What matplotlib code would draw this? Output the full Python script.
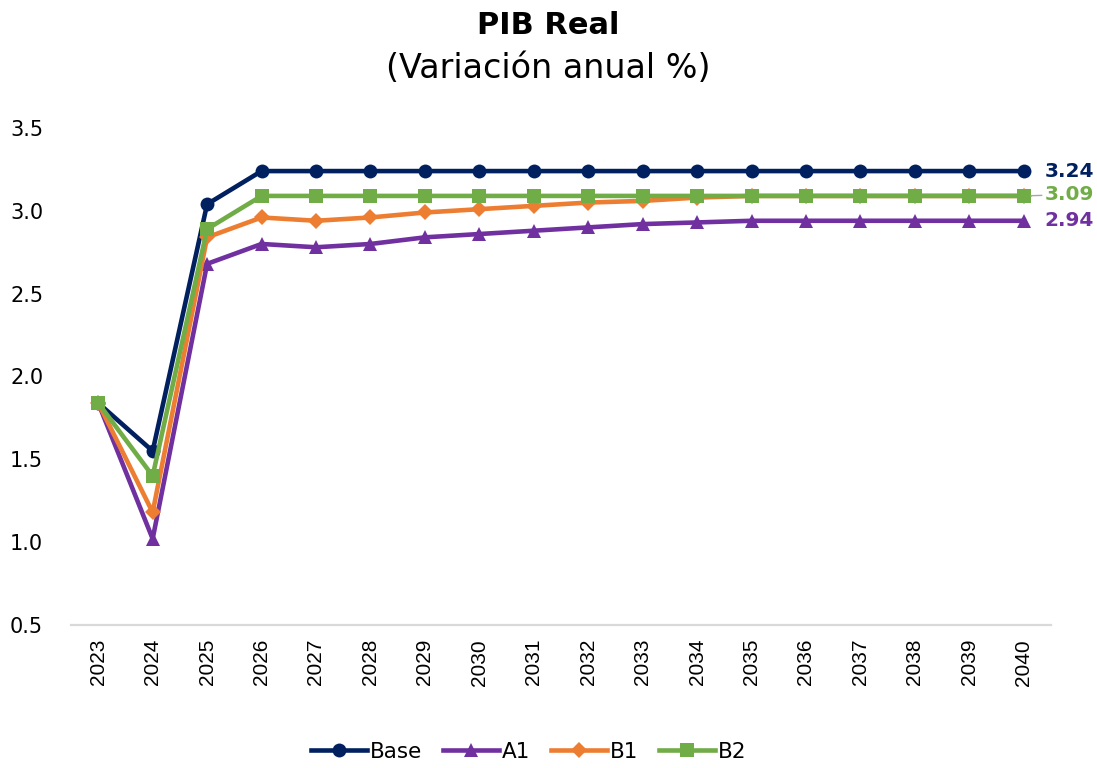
import matplotlib
matplotlib.use("Agg")
import matplotlib.pyplot as plt
from matplotlib.lines import Line2D

years = [str(y) for y in range(2023, 2041)]
base = [1.84, 1.55, 3.04, 3.24, 3.24, 3.24, 3.24, 3.24, 3.24, 3.24, 3.24, 3.24, 3.24, 3.24, 3.24, 3.24, 3.24, 3.24]
a1 = [1.84, 1.02, 2.68, 2.80, 2.78, 2.80, 2.84, 2.86, 2.88, 2.90, 2.92, 2.93, 2.94, 2.94, 2.94, 2.94, 2.94, 2.94]
b1 = [1.84, 1.18, 2.84, 2.96, 2.94, 2.96, 2.99, 3.01, 3.03, 3.05, 3.06, 3.08, 3.09, 3.09, 3.09, 3.09, 3.09, 3.09]
b2 = [1.84, 1.40, 2.89, 3.09, 3.09, 3.09, 3.09, 3.09, 3.09, 3.09, 3.09, 3.09, 3.09, 3.09, 3.09, 3.09, 3.09, 3.09]
names = ["Base", "A1", "B1", "B2"]
yticks = [0.5, 1.0, 1.5, 2.0, 2.5, 3.0, 3.5]

colors = ["#002060", "#7030A0", "#ED7D31", "#70AD47"]
markers = ["o", "^", "D", "s"]
msizes = [10, 10, 8, 10]

plt.rcParams['font.family'] = ['DejaVu Sans']

fig = plt.figure(figsize=(10.97, 7.68), dpi=100)
ax = fig.add_axes([71/1097, 143/768, 980/1097, 497/768])

x = list(range(len(years)))
series = [base, a1, b1, b2]
for s, c, m, ms, n in zip(series, colors, markers, msizes, names):
    ax.plot(x, s, color=c, marker=m, markersize=ms, linewidth=3.3,
            markeredgewidth=0, label=n, solid_joinstyle='round')

ax.set_xlim(-0.5, len(years) - 0.5)
ax.set_ylim(0.5, 3.5)
ax.set_yticks(yticks)
ax.set_yticklabels([f"{v:.1f}" for v in yticks], fontsize=15, color="#000000")
ax.set_xticks(x)
ax.set_xticklabels(years, rotation=90, fontsize=15, family=['Liberation Sans'])
ax.tick_params(axis='both', length=0)
ax.tick_params(axis='y', pad=20)
ax.tick_params(axis='x', pad=10)
for sp in ['top', 'right', 'left']:
    ax.spines[sp].set_visible(False)
ax.spines['bottom'].set_color('#D9D9D9')
ax.spines['bottom'].set_linewidth(1.6)

# end labels
last = len(years) - 1
ax.annotate(f"{base[-1]:.2f}", xy=(last, base[-1]), xytext=(15, 0), textcoords='offset points',
            color=colors[0], fontsize=14.5, fontweight='bold', va='center', ha='left')
ax.annotate(f"{b2[-1]:.2f}", xy=(last, b2[-1]), xytext=(15, 1), textcoords='offset points',
            color=colors[3], fontsize=14.5, fontweight='bold', va='center', ha='left',
            arrowprops=dict(arrowstyle='-', color='#A6A6A6', lw=1, shrinkA=0, shrinkB=5))
ax.annotate(f"{a1[-1]:.2f}", xy=(last, a1[-1]), xytext=(15, 0), textcoords='offset points',
            color=colors[1], fontsize=14.5, fontweight='bold', va='center', ha='left')

fig.text(0.5, 0.967, "PIB Real", ha='center', va='center', fontsize=22, fontweight='bold')
fig.text(0.5, 0.911, "(Variación anual %)", ha='center', va='center', fontsize=24)

handles = [Line2D([0], [0], color=c, marker=m, markersize=ms, linewidth=3.3, markeredgewidth=0)
           for c, m, ms in zip(colors, markers, msizes)]
fig.legend(handles, names, loc='center', bbox_to_anchor=(0.482, 0.021), ncol=4, frameon=False,
           fontsize=15.5, handlelength=2.6, columnspacing=1.0, handletextpad=0.1)

fig.savefig("out.png", dpi=100)
